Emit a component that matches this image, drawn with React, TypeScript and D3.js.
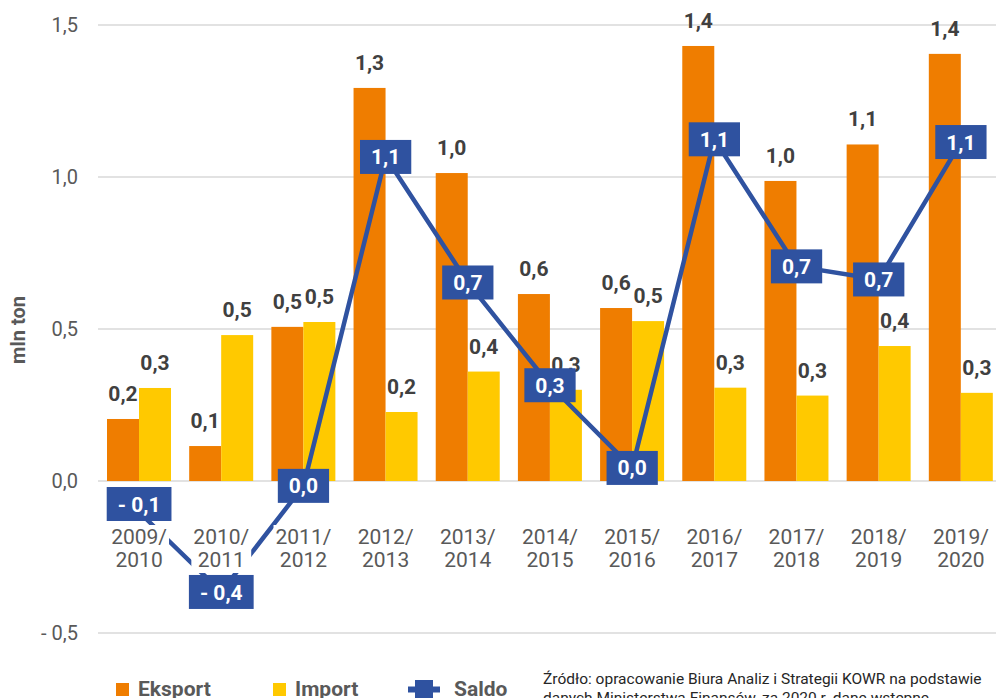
import React from "react";
import * as d3 from "d3";

// marketing years and trade values (mln ton)
const seasons = [
  "2009/2010", "2010/2011", "2011/2012", "2012/2013", "2013/2014", "2014/2015",
  "2015/2016", "2016/2017", "2017/2018", "2018/2019", "2019/2020",
];
const eksport = [0.204, 0.115, 0.507, 1.293, 1.013, 0.615, 0.569, 1.431, 0.987, 1.107, 1.405];
const importV = [0.306, 0.48, 0.523, 0.227, 0.36, 0.3, 0.526, 0.307, 0.281, 0.444, 0.29];
const saldo = [-0.102, -0.365, -0.016, 1.066, 0.653, 0.315, 0.043, 1.124, 0.706, 0.663, 1.115];
const yTicks = [-0.5, 0, 0.5, 1.0, 1.5];

const source = [
  "Źródło: opracowanie Biura Analiz i Strategii KOWR na podstawie",
  "danych Ministerstwa Finansów, za 2020 r. dane wstępne",
];

const ORANGE = "#EF7D00";
const YELLOW = "#FFC900";
const BLUE = "#2F52A0";
const GREY = "#595959";
const LABEL = "#404040";
const FONT = "Roboto, 'Noto Sans', sans-serif";

const fmt = (v: number) => {
  const s = d3.format(".1f")(Math.abs(v)).replace(".", ",");
  return v < 0 && Math.abs(v) >= 0.05 ? `- ${s}` : s;
};

let ctx: CanvasRenderingContext2D | null = null;
function textWidth(t: string, font: string) {
  if (!ctx) ctx = document.createElement("canvas").getContext("2d");
  if (!ctx) return t.length * 11;
  ctx.font = font;
  return ctx.measureText(t).width;
}

export default function App() {
  const W = 996,
    H = 698;

  const x = d3.scaleBand<string>().domain(seasons).range([98, 1002]);
  const xs = d3.scaleBand<string>().domain(["Eksport", "Import"]).range([9, 73]);
  const y = d3.scaleLinear().domain([-0.5, 1.5]).range([633, 25]);

  const cx = (i: number) => (x(seasons[i]) as number) + x.bandwidth() / 2;

  // band occupied by the category labels under the plot
  const labTop = 525,
    labBottom = 572;

  const line = d3
    .line<number>()
    .x((d, i) => cx(i))
    .y((d) => y(d));

  const grid = yTicks.map((t, i) => (
    <g key={i}>
      <line x1={98} x2={W} y1={y(t)} y2={y(t)} stroke="#d9d9d9" strokeWidth={1.6} />
      <text x={78} y={y(t)} dy="0.35em" textAnchor="end" fontSize={20} fill={GREY}>
        {fmt(t)}
      </text>
    </g>
  ));

  const bars = seasons.map((s, i) => {
    const x0 = x(s) as number;
    return (
      <g key={s}>
        {[
          { k: "Eksport", v: eksport[i], c: ORANGE },
          { k: "Import", v: importV[i], c: YELLOW },
        ].map((b) => (
          <g key={b.k}>
            <rect
              x={x0 + (xs(b.k) as number)}
              y={y(b.v)}
              width={xs.bandwidth()}
              height={y(0) - y(b.v)}
              fill={b.c}
            />
            <text
              x={x0 + (xs(b.k) as number) + xs.bandwidth() / 2}
              y={y(b.v) - 18}
              textAnchor="middle"
              fontSize={21}
              fontWeight="bold"
              fill={LABEL}
            >
              {fmt(b.v)}
            </text>
          </g>
        ))}
      </g>
    );
  });

  const xLabels = seasons.map((s, i) => {
    const parts = [s.slice(0, 5), s.slice(5)];
    const w = textWidth(parts[0], `21px ${FONT}`);
    return (
      <g key={s}>
        <rect x={cx(i) - w / 2 - 2} y={labTop} width={w + 4} height={labBottom - labTop + 1} fill="#fff" />
        {parts.map((p, j) => (
          <text key={j} x={cx(i)} y={544 + j * 23} textAnchor="middle" fontSize={21} fill={GREY}>
            {p}
          </text>
        ))}
      </g>
    );
  });

  const saldoLabels = saldo.map((v, i) => {
    const t = fmt(v);
    const w = textWidth(t, `bold 21px ${FONT}`) + 22;
    const h = 34;
    let top = y(v) - h / 2;
    // keep the box clear of the category labels
    if (top + h > labTop - 3 && top < labBottom) {
      top = y(v) < (labTop + labBottom) / 2 ? labTop - 4 - h : labBottom + 3;
    }
    return (
      <g key={i}>
        <rect x={cx(i) - w / 2} y={top} width={w} height={h} fill={BLUE} />
        <text
          x={cx(i)}
          y={top + h / 2}
          dy="0.36em"
          textAnchor="middle"
          fontSize={21}
          fontWeight="bold"
          fill="#fff"
        >
          {t}
        </text>
      </g>
    );
  });

  return (
    <svg
      width={W}
      height={H}
      style={{ position: "absolute", left: 0, top: 0, background: "#fff" }}
      fontFamily={FONT}
    >
      <rect width={W} height={H} fill="#fff" />
      {grid}
      {bars}
      <path d={line(saldo) || ""} fill="none" stroke={BLUE} strokeWidth={4.5} strokeLinejoin="round" />
      {xLabels}
      {saldoLabels}
      <text
        transform={`translate(25,330) rotate(-90)`}
        textAnchor="middle"
        fontSize={20}
        fontWeight="bold"
        fill={GREY}
      >
        mln ton
      </text>

      {/* legend */}
      <g fontSize={21} fontWeight="bold" fill={GREY}>
        <rect x={116} y={683} width={13} height={13} fill={ORANGE} />
        <text x={138} y={696}>Eksport</text>
        <rect x={273} y={683} width={13} height={13} fill={YELLOW} />
        <text x={295} y={696}>Import</text>
        <line x1={408} x2={440} y1={689.5} y2={689.5} stroke={BLUE} strokeWidth={6} />
        <rect x={415} y={680} width={18} height={18} fill={BLUE} />
        <text x={454} y={696}>Saldo</text>
      </g>

      {source.map((s, i) => (
        <text key={i} x={543} y={684 + i * 19} fontSize={15.5} fill="#262626">
          {s}
        </text>
      ))}
    </svg>
  );
}
